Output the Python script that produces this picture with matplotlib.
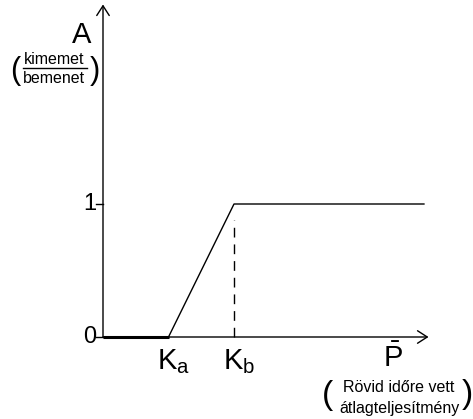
import matplotlib
matplotlib.use("Agg")
import matplotlib.pyplot as plt

plt.rcParams['font.family'] = ['Liberation Sans', 'DejaVu Sans']
plt.rcParams['mathtext.fontset'] = 'custom'
plt.rcParams['mathtext.rm'] = 'Liberation Sans'
plt.rcParams['mathtext.it'] = 'Liberation Sans'

# transfer curve: A (kimenet/bemenet) vs P (short-term mean power)
Ka = 1.0
Kb = 2.0
p_vals = [0.0, Ka, Kb, 4.9]
a_vals = [0.0, 0.0, 1.0, 1.0]
ytick_vals = [0, 1]
ytick_labels = ["0", "1"]

fig = plt.figure(figsize=(4.73, 4.19), dpi=100)
ax = fig.add_axes([0, 0, 1, 1])
ax.set_xlim(-103 / 65.5, (473 - 103) / 65.5)
ax.set_ylim(-82 / 133, 337 / 133)
ax.axis('off')

# axes with open arrow heads
arr = dict(arrowstyle='->,head_length=0.7,head_width=0.45', lw=1, color='black',
           shrinkA=0, shrinkB=0)
ax.annotate('', xy=(0, 2.5), xytext=(0, 0), arrowprops=arr)
ax.annotate('', xy=(4.97, 0), xytext=(0, 0), arrowprops=arr)

# curve: thick flat part, then ramp and plateau
ax.plot(p_vals[:2], a_vals[:2], color='black', lw=2.2, solid_capstyle='butt')
ax.plot(p_vals[1:], a_vals[1:], color='black', lw=1)
ax.plot([Kb, Kb], [0, 0.88], color='black', lw=1, dashes=(7, 5))

# y ticks
for v, lab in zip(ytick_vals, ytick_labels):
    ax.plot([-0.1, 0], [v, v], color='black', lw=1)
    ax.text(-0.1, v, lab, ha='right', va='center', fontsize=17)

ax.text(Ka + 0.08, -0.08, r'$\mathrm{K}_{\mathrm{a}}$', ha='center', va='top', fontsize=21)
ax.text(Kb + 0.08, -0.08, r'$\mathrm{K}_{\mathrm{b}}$', ha='center', va='top', fontsize=21)
ax.text(4.43, -0.05, r'$\bar{\mathrm{P}}$', ha='center', va='top', fontsize=21)

# y axis label with fraction
ax.text(-0.32, 2.27, 'A', ha='center', va='center', fontsize=21)
ax.text(-0.75, 2.09, 'kimemet', ha='center', va='center', fontsize=11.5)
ax.text(-0.75, 1.945, 'bemenet', ha='center', va='center', fontsize=11.5)
ax.plot([-1.22, -0.24], [2.022, 2.022], color='black', lw=1)
ax.text(-1.34, 2.0, '(', ha='center', va='center', fontsize=22)
ax.text(-0.13, 2.0, ')', ha='center', va='center', fontsize=22)

# x axis label note
ax.text(4.52, -0.38, 'Rövid időre vett', ha='center', va='center', fontsize=11.5)
ax.text(4.52, -0.54, 'átlagteljesítmény', ha='center', va='center', fontsize=11.5)
ax.text(3.43, -0.44, '(', ha='center', va='center', fontsize=24)
ax.text(5.57, -0.43, ')', ha='center', va='center', fontsize=24)

fig.savefig("out.png")
